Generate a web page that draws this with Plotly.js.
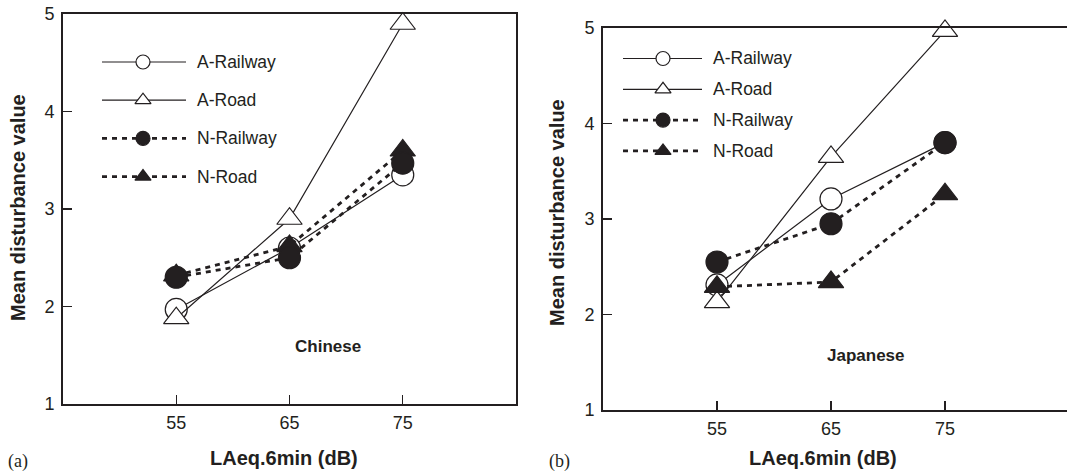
<!DOCTYPE html>
<html><head><meta charset="utf-8">
<script src="https://cdn.plot.ly/plotly-3.0.1.min.js"></script>
<style>html,body{margin:0;padding:0;background:#fff}</style>
</head><body><div id="chart" style="width:1067px;height:472px"></div>
<script>
// ---- data ----
const levels = [55, 65, 75];
const xTickLabels = ['55', '65', '75'];
const yTicks = [1, 2, 3, 4, 5];
const seriesNames = ['A-Railway', 'A-Road', 'N-Road', 'N-Railway'];
const chineseARailway = [1.97, 2.60, 3.35];
const chineseARoad = [1.88, 2.90, 4.90];
const chineseNRoad = [2.32, 2.62, 3.60];
const chineseNRailway = [2.30, 2.50, 3.47];
const japaneseARailway = [2.31, 3.21, 3.80];
const japaneseARoad = [2.13, 3.65, 4.97];
const japaneseNRoad = [2.29, 2.34, 3.26];
const japaneseNRailway = [2.55, 2.95, 3.80];
const panelNames = ['Chinese', 'Japanese'];
const legendOrder = ['A-Railway', 'A-Road', 'N-Railway', 'N-Road'];

// ---- layout helpers ----
const W = 1067, H = 472;
const INK = '#231f20';
const styles = {
  'A-Railway': {dash: 'solid', symbol: 'circle', fill: '#ffffff', width: 1.2},
  'A-Road': {dash: 'solid', symbol: 'triangle-up', fill: '#ffffff', width: 1.2},
  'N-Railway': {dash: '5px,5px', symbol: 'circle', fill: INK, width: 2.8},
  'N-Road': {dash: '5px,5px', symbol: 'triangle-up', fill: INK, width: 2.8}
};
const panelData = [
  {'A-Railway': chineseARailway, 'A-Road': chineseARoad, 'N-Road': chineseNRoad, 'N-Railway': chineseNRailway},
  {'A-Railway': japaneseARailway, 'A-Road': japaneseARoad, 'N-Road': japaneseNRoad, 'N-Railway': japaneseNRailway}
];
const px = x => x / W;
const py = y => 1 - y / H;

// plot boxes in pixels
const boxes = [
  {l: 63, r: 516, t: 14, b: 404},
  {l: 603, r: 1067, t: 28, b: 410}
];
const legendPos = [
  {x0: 102, xm: 143, x1: 186, tx: 195, y0: 62, dy: 38.2},
  {x0: 623, xm: 663, x1: 702, tx: 711, y0: 58.5, dy: 30.8}
];

const traces = [];
panelData.forEach((pd, p) => {
  const xa = p === 0 ? 'x' : 'x2', ya = p === 0 ? 'y' : 'y2';
  seriesNames.forEach(name => {
    const s = styles[name];
    traces.push({
      type: 'scatter', mode: 'lines+markers', x: levels, y: pd[name],
      xaxis: xa, yaxis: ya, name: name, showlegend: false, cliponaxis: false,
      line: {color: INK, width: s.width, dash: s.dash},
      marker: {symbol: s.symbol, size: 22, color: s.fill,
               line: {color: INK, width: 1.2}},
      hoverinfo: 'x+y+name'
    });
  });
  // legend samples (pixel overlay axis)
  const lp = legendPos[p];
  legendOrder.forEach((name, i) => {
    const s = styles[name];
    const yy = lp.y0 + i * lp.dy;
    traces.push({
      type: 'scatter', mode: 'lines+markers',
      x: [lp.x0, lp.xm, lp.x1], y: [yy, yy, yy],
      xaxis: 'x3', yaxis: 'y3', showlegend: false, hoverinfo: 'skip', cliponaxis: false,
      line: {color: INK, width: s.width, dash: s.dash},
      marker: {symbol: s.symbol, size: 14, color: s.fill, opacity: [0, 1, 0],
               line: {color: INK, width: 1.2}}
    });
  });
});

const annotations = [];
legendPos.forEach(lp => {
  legendOrder.forEach((name, i) => {
    annotations.push({xref: 'paper', yref: 'paper', x: px(lp.tx), y: py(lp.y0 + i * lp.dy),
      xanchor: 'left', yanchor: 'middle', showarrow: false, text: name,
      font: {family: 'Liberation Sans, Arial, sans-serif', size: 17.5, color: INK}});
  });
});
// panel names
[[328, 346], [866, 355]].forEach((c, i) => annotations.push({xref: 'paper', yref: 'paper',
  x: px(c[0]), y: py(c[1]), xanchor: 'center', yanchor: 'middle', showarrow: false,
  text: '<b>' + panelNames[i] + '</b>',
  font: {family: 'Liberation Sans, Arial, sans-serif', size: 17, color: INK}}));
// axis titles
[[18, 208], [557, 213]].forEach(c => annotations.push({xref: 'paper', yref: 'paper',
  x: px(c[0]), y: py(c[1]), xanchor: 'center', yanchor: 'middle', showarrow: false, textangle: -90,
  text: '<b>Mean disturbance value</b>',
  font: {family: 'Liberation Sans, Arial, sans-serif', size: 20, color: INK}}));
[[284, 458], [823, 458]].forEach(c => annotations.push({xref: 'paper', yref: 'paper',
  x: px(c[0]), y: py(c[1]), xanchor: 'center', yanchor: 'middle', showarrow: false,
  text: '<b>LAeq.6min (dB)</b>',
  font: {family: 'Liberation Sans, Arial, sans-serif', size: 20, color: INK}}));
// panel letters
[[18, 461, '(a)'], [559, 461, '(b)']].forEach(c => annotations.push({xref: 'paper', yref: 'paper',
  x: px(c[0]), y: py(c[1]), xanchor: 'center', yanchor: 'middle', showarrow: false, text: c[2],
  font: {family: 'Liberation Serif, Times New Roman, serif', size: 18, color: INK}}));

function xAxis(b, range, mirror, anchor) {
  return {domain: [px(b.l), px(b.r)], range: range, anchor: anchor,
    tickvals: levels, ticktext: xTickLabels, ticks: 'inside', ticklen: 9, tickwidth: 1.2, tickcolor: INK,
    showline: true, linewidth: 2, linecolor: INK, mirror: mirror, showgrid: false, zeroline: false,
    ticklabelstandoff: 1,
    tickfont: {family: 'Liberation Sans, Arial, sans-serif', size: 18, color: INK}, fixedrange: true};
}
function yAxis(b, mirror, anchor) {
  return {domain: [py(b.b), py(b.t)], range: [1, 5], anchor: anchor,
    tickvals: yTicks, ticks: 'inside', ticklen: 9, tickwidth: 1.2, tickcolor: INK,
    showline: true, linewidth: 2, linecolor: INK, mirror: mirror, showgrid: false, zeroline: false,
    ticklabelstandoff: 3,
    tickfont: {family: 'Liberation Sans, Arial, sans-serif', size: 18, color: INK}, fixedrange: true};
}
const b0 = boxes[0], b1 = boxes[1];
const layout = {
  width: W, height: H, margin: {l: 0, r: 0, t: 0, b: 0},
  paper_bgcolor: '#ffffff', plot_bgcolor: 'rgba(0,0,0,0)', showlegend: false,
  xaxis: xAxis(b0, [45, 85], true, 'y'),
  yaxis: yAxis(b0, true, 'x'),
  xaxis2: xAxis(b1, [45, 45 + (b1.r - b1.l) / 11.4], true, 'y2'),
  yaxis2: yAxis(b1, false, 'x2'),
  xaxis3: {domain: [0, 1], range: [0, W], visible: false, anchor: 'y3', fixedrange: true},
  yaxis3: {domain: [0, 1], range: [H, 0], visible: false, anchor: 'x3', fixedrange: true},
  annotations: annotations
};
Plotly.newPlot('chart', traces, layout, {displayModeBar: false, staticPlot: true});
</script></body></html>
